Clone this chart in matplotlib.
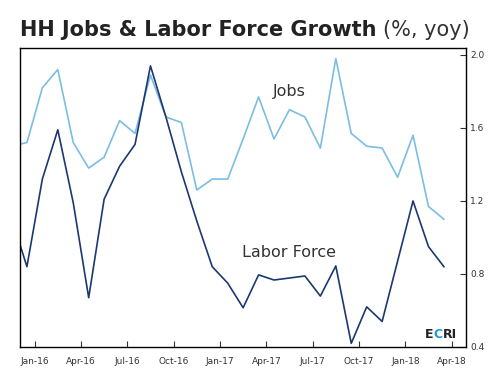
import numpy as np
import matplotlib.pyplot as plt

# monthly readings, Nov-15 .. Mar-18 (first one only shows as the clipped edge)
jobs = [1.50, 1.52, 1.82, 1.92, 1.52, 1.38, 1.44, 1.64, 1.57, 1.89, 1.66, 1.63,
        1.26, 1.32, 1.32, 1.54, 1.77, 1.54, 1.70, 1.66, 1.49, 1.98, 1.57, 1.50,
        1.49, 1.33, 1.56, 1.17, 1.10]
labor = [1.11, 0.84, 1.32, 1.59, 1.19, 0.67, 1.21, 1.39, 1.51, 1.94, 1.66, 1.36,
         1.09, 0.84, 0.75, 0.615, 0.795, 0.767, 0.778, 0.789, 0.679, 0.844, 0.42,
         0.62, 0.54, 0.87, 1.20, 0.95, 0.84]
tick_labels = ["Jan-16", "Apr-16", "Jul-16", "Oct-16", "Jan-17", "Apr-17",
               "Jul-17", "Oct-17", "Jan-18", "Apr-18"]
y_ticks = [0.4, 0.8, 1.2, 1.6, 2.0]

x = np.arange(len(jobs)) - 1

fig = plt.figure(figsize=(4.95, 3.75), dpi=100)
ax = fig.add_axes([19.5 / 495, 1 - 347 / 375, (466 - 19.5) / 495, (347 - 48) / 375])

ax.plot(x, jobs, color="#7cbde3", lw=1.2)
ax.plot(x, labor, color="#1b3872", lw=1.2)

ax.set_xlim(-0.48, 28.43)
ax.set_ylim(0.4, 2.038)

ax.yaxis.tick_right()
ax.set_yticks(y_ticks)
ax.set_yticklabels([f"{v:.1f}" for v in y_ticks])
ax.set_xticks(np.arange(len(tick_labels)) * 3 + 0.5)
ax.set_xticklabels(tick_labels)
ax.tick_params(axis="both", direction="in", length=4, width=0.8, labelsize=6.5,
               colors="#333333")
ax.tick_params(axis="x", pad=7)
ax.tick_params(axis="y", pad=3)
for s in ax.spines.values():
    s.set_linewidth(1.0)
    s.set_color("black")

ax.text(17.0, 1.80, "Jobs", fontsize=11.5, color="#333333", ha="center", va="center")
ax.text(17.0, 0.915, "Labor Force", fontsize=11.5, color="#333333", ha="center", va="center")

# ECRI logo: E / C (blue) / RI
t_e = ax.text(425 / 495, 1 - 335 / 375, "E", transform=fig.transFigure, fontsize=9,
              fontweight="bold", color="#222222", ha="left", va="center")
t_c = ax.annotate("C", xy=(1, 0), xycoords=t_e, fontsize=9, fontweight="bold",
                  color="#1e9ad6", ha="left", va="bottom")
ax.annotate("RI", xy=(1, 0), xycoords=t_c, fontsize=9, fontweight="bold",
            color="#222222", ha="left", va="bottom")

fig.text(20 / 495, 1 - 30 / 375, "HH Jobs & Labor Force Growth", fontsize=15,
         fontweight="bold", color="#222222", va="center")
fig.text(383 / 495, 1 - 30 / 375, "(%, yoy)", fontsize=15, color="#333333", va="center")

fig.savefig("out.png", dpi=100)
